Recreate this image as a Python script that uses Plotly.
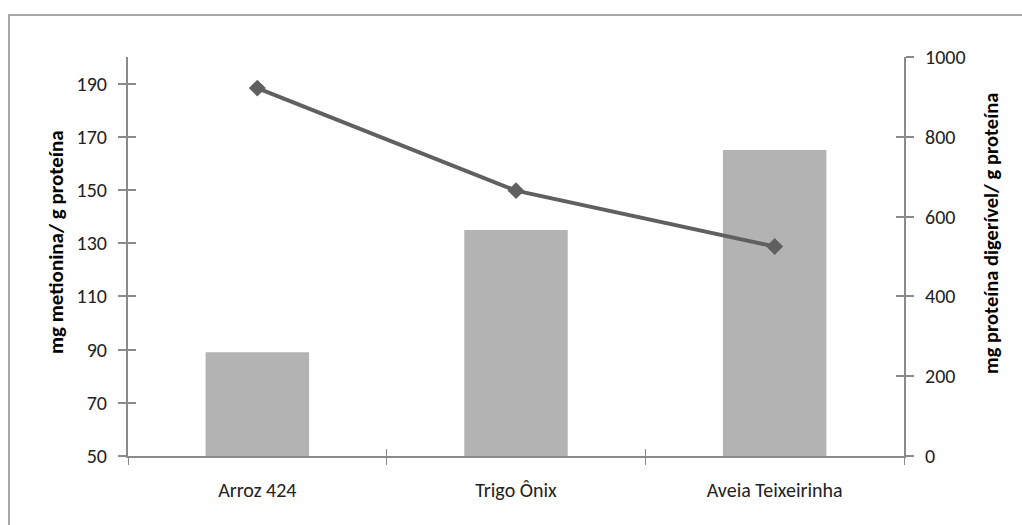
import plotly.graph_objects as go

# Cultivars on the category axis
categories = ["Arroz 424", "Trigo Ônix", "Aveia Teixeirinha"]
# Methionine per g protein (bars, left axis)
metionina = [89, 135, 165]
# Digestible protein per g protein (line, right axis)
proteina_digerivel = [922, 665, 525]

left_ticks = [50, 70, 90, 110, 130, 150, 170, 190]
right_ticks = [0, 200, 400, 600, 800, 1000]

W, H = 1022, 525
ML, MR, MT, MB = 128, 118, 57, 69
PW, PH = W - ML - MR, H - MT - MB

FONT = "Carlito, Calibri, Lato, sans-serif"
AXIS_COLOR = "#8a8a8a"
TEXT_COLOR = "#222222"


def px_x(px):
    return (px - ML) / PW


def px_y(py):
    return (H - MB - py) / PH


fig = go.Figure()

fig.add_trace(go.Bar(
    x=categories, y=metionina, width=0.4,
    marker=dict(color="#b3b3b3", line=dict(width=0)),
    xaxis="x", yaxis="y", showlegend=False,
))
fig.add_trace(go.Scatter(
    x=categories, y=proteina_digerivel, mode="lines+markers",
    line=dict(color="#606060", width=4),
    marker=dict(symbol="diamond", size=13, color="#606060"),
    xaxis="x", yaxis="y2", showlegend=False,
))
# Empty traces so the inner halves of the crossing tick marks are drawn
fig.add_trace(go.Scatter(x=[], y=[], xaxis="x2", yaxis="y3", showlegend=False))
fig.add_trace(go.Scatter(x=[], y=[], xaxis="x2", yaxis="y4", showlegend=False))

common_x = dict(
    type="category", categoryorder="array", categoryarray=categories,
    range=[-0.5, 2.5], tickson="boundaries", ticklen=7, tickwidth=1,
    tickcolor=AXIS_COLOR, showgrid=False, zeroline=False,
)
common_y = dict(ticklen=8, tickwidth=1.5, tickcolor=AXIS_COLOR,
                showgrid=False, zeroline=False)

fig.update_layout(
    width=W, height=H,
    margin=dict(l=ML, r=MR, t=MT, b=MB, autoexpand=False),
    paper_bgcolor="white", plot_bgcolor="white",
    font=dict(family=FONT, color=TEXT_COLOR),
    xaxis=dict(
        **common_x, ticks="outside", showline=True, linecolor=AXIS_COLOR,
        linewidth=2, tickfont=dict(size=20, family=FONT, color=TEXT_COLOR),
        ticklabelstandoff=15, anchor="y",
    ),
    xaxis2=dict(
        **common_x, ticks="inside", showline=False, showticklabels=False,
        overlaying="x", anchor="y",
    ),
    yaxis=dict(
        **common_y, range=[50, 200], tickvals=left_ticks, ticks="outside",
        showline=True, linecolor=AXIS_COLOR, linewidth=2, side="left",
        tickfont=dict(size=20, family=FONT, color=TEXT_COLOR),
        ticklabelstandoff=7, anchor="x",
    ),
    yaxis3=dict(
        **common_y, range=[50, 200], tickvals=left_ticks, ticks="inside",
        showticklabels=False, overlaying="y", side="left", anchor="x",
    ),
    yaxis2=dict(
        **common_y, range=[0, 1000], tickvals=right_ticks, ticks="outside",
        showline=True, linecolor=AXIS_COLOR, linewidth=2, side="right",
        overlaying="y", tickfont=dict(size=20, family=FONT, color=TEXT_COLOR),
        ticklabelstandoff=7, anchor="x",
    ),
    yaxis4=dict(
        **common_y, range=[0, 1000], tickvals=right_ticks, ticks="inside",
        showticklabels=False, overlaying="y", side="right", anchor="x",
    ),
    bargap=0.6,
)

# Axis titles
fig.add_annotation(
    text="<b>mg metionina/ g proteína</b>", textangle=-90,
    xref="paper", yref="paper", x=px_x(56), y=px_y(242),
    xanchor="center", yanchor="middle",
    showarrow=False, font=dict(size=21, family=FONT, color="#000000"),
)
fig.add_annotation(
    text="<b>mg proteína digerível/ g proteína</b>", textangle=-90,
    xref="paper", yref="paper", x=px_x(991), y=px_y(234),
    xanchor="center", yanchor="middle",
    showarrow=False, font=dict(size=20.5, family=FONT, color="#000000"),
)

# Chart frame
fig.add_shape(
    type="rect", xref="paper", yref="paper",
    x0=px_x(9), x1=px_x(1040), y0=px_y(540), y1=px_y(15),
    line=dict(color="#8a8a8a", width=1.5), fillcolor="rgba(0,0,0,0)",
    layer="below",
)

fig.write_html("out.html")
